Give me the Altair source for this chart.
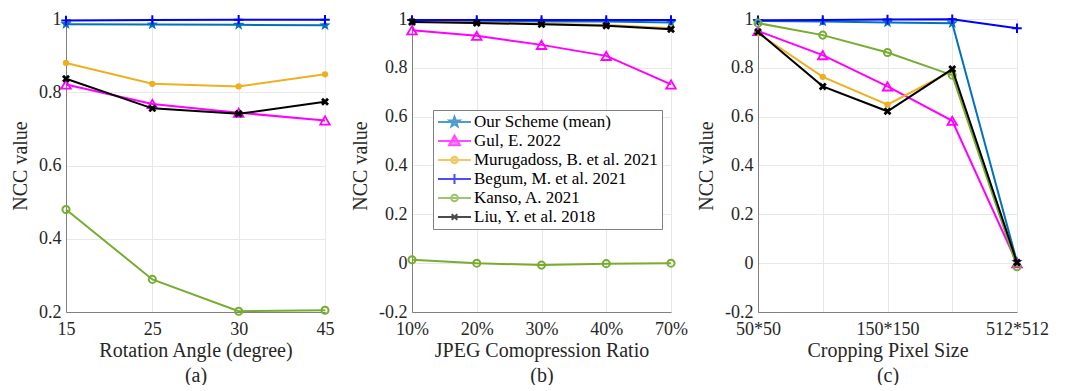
import math
import altair as alt
import pandas as pd

SERIES = ["Our Scheme (mean)", "Gul, E. 2022", "Murugadoss, B. et al. 2021",
          "Begum, M. et al. 2021", "Kanso, A. 2021", "Liu, Y. et al. 2018"]
COLORS = ["#0072BD", "#FF00FF", "#EDB120", "#0000FF", "#77AC30", "#000000"]

# (a) Rotation
rot_x = ["15", "25", "30", "45"]
rot_our = [0.986, 0.985, 0.984, 0.983]
rot_gul = [0.821, 0.768, 0.744, 0.723]
rot_mur = [0.880, 0.823, 0.816, 0.849]
rot_begum = [0.996, 0.997, 0.998, 0.998]
rot_kanso = [0.480, 0.289, 0.202, 0.205]
rot_liu = [0.837, 0.756, 0.741, 0.774]

# (b) JPEG
jpg_x = ["10%", "20%", "30%", "40%", "70%"]
jpg_our = [0.992, 0.991, 0.990, 0.990, 0.986]
jpg_gul = [0.954, 0.931, 0.894, 0.849, 0.732]
jpg_mur = [0.990, 0.986, 0.981, 0.975, 0.962]
jpg_begum = [0.996, 0.996, 0.996, 0.996, 0.996]
jpg_kanso = [0.014, 0.0, -0.008, -0.002, 0.0]
jpg_liu = [0.988, 0.984, 0.978, 0.972, 0.958]

# (c) Cropping
crop_x = ["50*50", "100*100", "150*150", "200*200", "512*512"]
crop_shown = ["50*50", "150*150", "512*512"]
crop_our = [0.992, 0.990, 0.986, 0.983, 0.005]
crop_gul = [0.951, 0.852, 0.724, 0.583, 0.0]
crop_mur = [0.942, 0.763, 0.649, 0.788, 0.0]
crop_begum = [0.995, 0.996, 0.998, 0.999, 0.962]
crop_kanso = [0.983, 0.934, 0.863, 0.770, -0.015]
crop_liu = [0.947, 0.724, 0.622, 0.795, 0.003]

FONT = "Liberation Serif"
TXT = "#262626"


def star_path(r_out, r_in):
    pts = []
    for i in range(10):
        r = r_out if i % 2 == 0 else r_in
        a = -math.pi / 2 + i * math.pi / 5
        pts.append((r * math.cos(a), r * math.sin(a)))
    return "M" + "L".join(f"{x:.3f},{y:.3f}" for x, y in pts) + "Z"


def circle_path(r):
    return f"M{r},0A{r},{r} 0 1,1 {-r},0A{r},{r} 0 1,1 {r},0Z"


STAR = star_path(1, 0.42)
PLUS = "M-1,0H1M0,-1V1"
XSHAPE = "M-1,-1L1,1M-1,1L1,-1"

# marker styling per series: (shape, filled, size, strokeWidth)
MARKERS = [
    (STAR, True, 140, 1),
    ("triangle-up", False, 90, 1.8),
    ("circle", True, 40, 1),
    (PLUS, False, 90, 2),
    ("circle", False, 50, 2),
    (XSHAPE, False, 36, 2.8),
]

LINE = "M-1,0H1"
LEG_PATHS = [
    LINE + star_path(0.32, 0.13),
    LINE + "M0,-0.33L0.33,0.26L-0.33,0.26Z",
    LINE + circle_path(0.2),
    LINE + "M0,-0.3V0.3",
    LINE + circle_path(0.2),
    LINE + "M-0.17,-0.17L0.17,0.17M-0.17,0.17L0.17,-0.17",
]
LEG_FILLS = ["#0072BD", "#FF00FF", "#EDB120", "transparent", "white", "transparent"]


def make_df(xs, lists):
    rows = []
    for name, vals in zip(SERIES, lists):
        for x, v in zip(xs, vals):
            rows.append({"series": name, "x": x, "value": v})
    return pd.DataFrame(rows)


def panel(df, xs, ydom, yticks, title, label_expr=None, legend=False):
    axis_kw = dict(values=xs, title=title, titleLineHeight=25,
                   labelAngle=0, labelPadding=8, titlePadding=2)
    if label_expr:
        axis_kw["labelExpr"] = label_expr
    X = alt.X("x:N", sort=xs, scale=alt.Scale(type="point", padding=0),
              axis=alt.Axis(**axis_kw))
    Y = alt.Y("value:Q", scale=alt.Scale(domain=ydom, nice=False, zero=False),
              axis=alt.Axis(values=yticks, title="NCC value",
                            labelExpr="toString(round(datum.value*10)/10)",
                            labelPadding=5, titlePadding=8))
    layers = []
    for name, color, (shape, filled, size, sw) in zip(SERIES, COLORS, MARKERS):
        base = alt.Chart(df).transform_filter(alt.datum.series == name)
        layers.append(base.mark_line(color=color, strokeWidth=2).encode(x=X, y=Y))
        layers.append(base.mark_point(shape=shape, filled=filled, color=color,
                                      size=size, strokeWidth=sw, opacity=1).encode(x=X, y=Y))
    if legend:
        leg = alt.Legend(orient="none", legendX=367, legendY=91, title=None,
                         labelFont=FONT, labelFontSize=17, labelColor="#000000",
                         symbolSize=33 * 33, symbolStrokeWidth=2, clipHeight=16,
                         rowPadding=2, padding=4, strokeColor="#808080",
                         fillColor="white", labelOffset=2, symbolOffset=0,
                         labelLimit=400)
        layers.append(
            alt.Chart(df).transform_filter("datum.value > 5").mark_point().encode(
                x=X, y=Y,
                shape=alt.Shape("series:N", scale=alt.Scale(domain=SERIES, range=LEG_PATHS), legend=leg),
                stroke=alt.Stroke("series:N", scale=alt.Scale(domain=SERIES, range=COLORS), legend=leg),
                fill=alt.Fill("series:N", scale=alt.Scale(domain=SERIES, range=LEG_FILLS), legend=leg),
            )
        )
    return alt.layer(*layers).properties(width=259, height=293)


pa = panel(make_df(rot_x, [rot_our, rot_gul, rot_mur, rot_begum, rot_kanso, rot_liu]),
           rot_x, [0.2, 1], [0.2, 0.4, 0.6, 0.8, 1.0],
           ["Rotation Angle (degree)", "(a)"])
pb = panel(make_df(jpg_x, [jpg_our, jpg_gul, jpg_mur, jpg_begum, jpg_kanso, jpg_liu]),
           jpg_x, [-0.2, 1], [-0.2, 0, 0.2, 0.4, 0.6, 0.8, 1.0],
           ["JPEG Comopression Ratio", "(b)"], legend=True)
pc = panel(make_df(crop_x, [crop_our, crop_gul, crop_mur, crop_begum, crop_kanso, crop_liu]),
           crop_x, [-0.2, 1], [-0.2, 0, 0.2, 0.4, 0.6, 0.8, 1.0],
           ["Cropping Pixel Size", "(c)"],
           label_expr="indexof(" + str(crop_shown) + ", datum.value) >= 0 ? datum.value : ''")

chart = alt.HConcatChart(hconcat=[pa, pb, pc], spacing=87, bounds="flush").properties(
    padding={"left": 2, "top": 2, "right": 0, "bottom": 0}
).configure_view(stroke=None).configure_axis(
    labelFont=FONT, labelFontSize=18, labelColor=TXT,
    titleFont=FONT, titleFontSize=20, titleFontWeight="normal", titleColor=TXT,
    domainColor="#808080", domainWidth=1, gridColor="#e8e8e8", gridWidth=1,
    ticks=False, grid=True
)

chart.save("out.html", embed_options={"renderer": "svg", "actions": False})
